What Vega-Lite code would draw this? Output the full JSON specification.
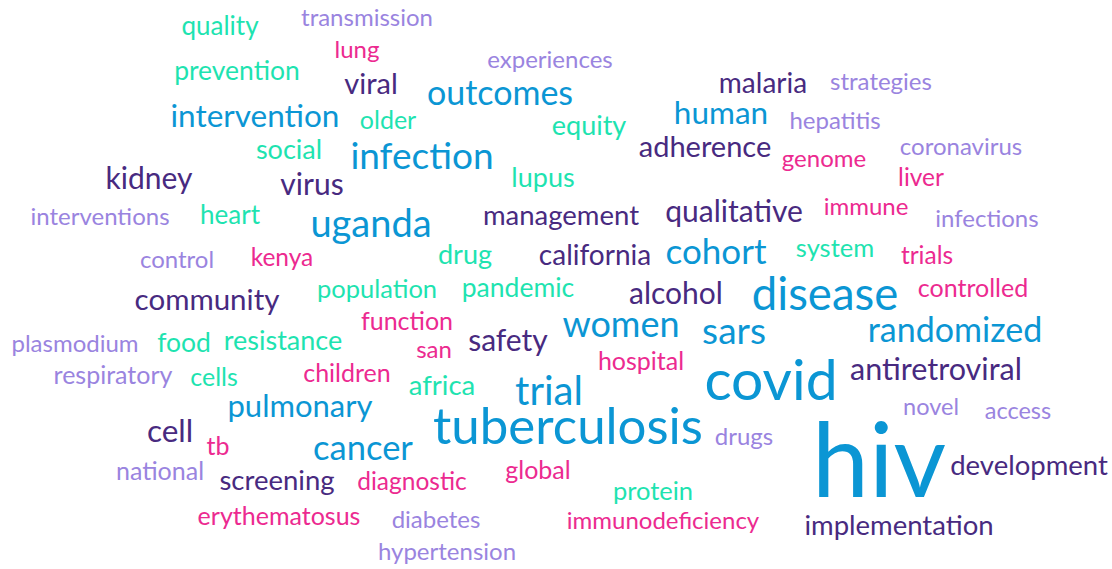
{
  "$schema": "https://vega.github.io/schema/vega-lite/v6.json",
  "autosize": {"type": "fit", "contains": "padding"},
  "width": 1112,
  "height": 569,
  "padding": 0,
  "background": "white",
  "config": {"view": {"stroke": null}},
  "data": {"values": [
    {"word": "quality", "x": 220, "y": 35, "w": 26, "c": "teal"},
    {"word": "transmission", "x": 367, "y": 26, "w": 24, "c": "lavender"},
    {"word": "lung", "x": 357, "y": 58, "w": 24, "c": "pink"},
    {"word": "experiences", "x": 550, "y": 68, "w": 24, "c": "lavender"},
    {"word": "prevention", "x": 237, "y": 80, "w": 26.5, "c": "teal"},
    {"word": "viral", "x": 371, "y": 94, "w": 29, "c": "purple"},
    {"word": "outcomes", "x": 500, "y": 105, "w": 34, "c": "blue"},
    {"word": "malaria", "x": 763, "y": 93, "w": 28, "c": "purple"},
    {"word": "strategies", "x": 881, "y": 90, "w": 24, "c": "lavender"},
    {"word": "intervention", "x": 255, "y": 127, "w": 31.5, "c": "blue"},
    {"word": "older", "x": 388, "y": 129, "w": 25, "c": "teal"},
    {"word": "human", "x": 721, "y": 124, "w": 31.5, "c": "blue"},
    {"word": "hepatitis", "x": 835, "y": 129, "w": 24, "c": "lavender"},
    {"word": "equity", "x": 589, "y": 135, "w": 27, "c": "teal"},
    {"word": "social", "x": 289, "y": 159, "w": 27, "c": "teal"},
    {"word": "infection", "x": 422, "y": 169, "w": 37, "c": "blue"},
    {"word": "adherence", "x": 705, "y": 157, "w": 29, "c": "purple"},
    {"word": "coronavirus", "x": 961, "y": 155, "w": 24, "c": "lavender"},
    {"word": "genome", "x": 824, "y": 167, "w": 24, "c": "pink"},
    {"word": "lupus", "x": 543, "y": 187, "w": 27, "c": "teal"},
    {"word": "kidney", "x": 149, "y": 189, "w": 30, "c": "purple"},
    {"word": "virus", "x": 312, "y": 195, "w": 30, "c": "purple"},
    {"word": "liver", "x": 921, "y": 186, "w": 24.5, "c": "pink"},
    {"word": "interventions", "x": 100, "y": 225, "w": 24, "c": "lavender"},
    {"word": "heart", "x": 230, "y": 224, "w": 26, "c": "teal"},
    {"word": "uganda", "x": 371, "y": 237, "w": 38, "c": "blue"},
    {"word": "management", "x": 561, "y": 225, "w": 27.5, "c": "purple"},
    {"word": "qualitative", "x": 734, "y": 222, "w": 30, "c": "purple"},
    {"word": "immune", "x": 866, "y": 215, "w": 24, "c": "pink"},
    {"word": "infections", "x": 987, "y": 227, "w": 24, "c": "lavender"},
    {"word": "control", "x": 177, "y": 268, "w": 24, "c": "lavender"},
    {"word": "kenya", "x": 282, "y": 266, "w": 24.5, "c": "pink"},
    {"word": "drug", "x": 465, "y": 264, "w": 27, "c": "teal"},
    {"word": "california", "x": 595, "y": 265, "w": 28, "c": "purple"},
    {"word": "cohort", "x": 716, "y": 264, "w": 35, "c": "blue"},
    {"word": "system", "x": 835, "y": 257, "w": 25.5, "c": "teal"},
    {"word": "trials", "x": 927, "y": 264, "w": 24.5, "c": "pink"},
    {"word": "community", "x": 207, "y": 310, "w": 29.5, "c": "purple"},
    {"word": "population", "x": 377, "y": 298, "w": 25.5, "c": "teal"},
    {"word": "pandemic", "x": 518, "y": 297, "w": 26.5, "c": "teal"},
    {"word": "alcohol", "x": 676, "y": 304, "w": 30, "c": "purple"},
    {"word": "disease", "x": 825, "y": 310, "w": 45.5, "c": "blue"},
    {"word": "controlled", "x": 973, "y": 297, "w": 25, "c": "pink"},
    {"word": "plasmodium", "x": 75, "y": 352, "w": 24, "c": "lavender"},
    {"word": "food", "x": 184, "y": 352, "w": 26.5, "c": "teal"},
    {"word": "resistance", "x": 283, "y": 350, "w": 27, "c": "teal"},
    {"word": "function", "x": 407, "y": 330, "w": 25, "c": "pink"},
    {"word": "san", "x": 434, "y": 358, "w": 24, "c": "pink"},
    {"word": "safety", "x": 508, "y": 351, "w": 30, "c": "purple"},
    {"word": "women", "x": 621, "y": 337, "w": 36, "c": "blue"},
    {"word": "sars", "x": 734, "y": 344, "w": 37, "c": "blue"},
    {"word": "randomized", "x": 955, "y": 342, "w": 34, "c": "blue"},
    {"word": "hospital", "x": 641, "y": 370, "w": 25, "c": "pink"},
    {"word": "respiratory", "x": 113, "y": 384, "w": 25, "c": "lavender"},
    {"word": "cells", "x": 214, "y": 386, "w": 25, "c": "teal"},
    {"word": "children", "x": 347, "y": 382, "w": 25, "c": "pink"},
    {"word": "africa", "x": 442, "y": 395, "w": 27.5, "c": "teal"},
    {"word": "trial", "x": 549, "y": 405, "w": 40, "c": "blue"},
    {"word": "covid", "x": 771, "y": 400, "w": 57, "c": "blue"},
    {"word": "antiretroviral", "x": 936, "y": 380, "w": 30.5, "c": "purple"},
    {"word": "pulmonary", "x": 300, "y": 417, "w": 31, "c": "blue"},
    {"word": "tuberculosis", "x": 568, "y": 444, "w": 51, "c": "blue"},
    {"word": "novel", "x": 931, "y": 415, "w": 23.5, "c": "lavender"},
    {"word": "access", "x": 1018, "y": 419, "w": 23.5, "c": "lavender"},
    {"word": "cell", "x": 170, "y": 442, "w": 31.5, "c": "purple"},
    {"word": "tb", "x": 218, "y": 455, "w": 25, "c": "pink"},
    {"word": "cancer", "x": 363, "y": 460, "w": 34.5, "c": "blue"},
    {"word": "drugs", "x": 744, "y": 445, "w": 24, "c": "lavender"},
    {"word": "hiv", "x": 879, "y": 497, "w": 102, "c": "blue"},
    {"word": "development", "x": 1029, "y": 475, "w": 27.5, "c": "purple"},
    {"word": "national", "x": 160, "y": 480, "w": 25, "c": "lavender"},
    {"word": "screening", "x": 277, "y": 490, "w": 27.5, "c": "purple"},
    {"word": "diagnostic", "x": 412, "y": 490, "w": 24.5, "c": "pink"},
    {"word": "global", "x": 538, "y": 479, "w": 25, "c": "pink"},
    {"word": "protein", "x": 653, "y": 500, "w": 25.5, "c": "teal"},
    {"word": "erythematosus", "x": 279, "y": 525, "w": 25, "c": "pink"},
    {"word": "diabetes", "x": 436, "y": 528, "w": 24, "c": "lavender"},
    {"word": "immunodeficiency", "x": 663, "y": 529, "w": 24, "c": "pink"},
    {"word": "implementation", "x": 899, "y": 535, "w": 27.5, "c": "purple"},
    {"word": "hypertension", "x": 447, "y": 560, "w": 24, "c": "lavender"}
  ]},
  "mark": {"type": "text", "font": "Lato", "align": "center", "baseline": "alphabetic"},
  "encoding": {
    "x": {"field": "x", "type": "quantitative", "scale": {"domain": [0, 1112], "nice": false, "zero": false}, "axis": null},
    "y": {"field": "y", "type": "quantitative", "scale": {"domain": [0, 569], "nice": false, "zero": false, "reverse": true}, "axis": null},
    "size": {"field": "w", "type": "quantitative", "scale": {"type": "linear", "domain": [0, 100], "range": [0, 100], "zero": true}, "legend": null},
    "color": {"field": "c", "type": "nominal", "scale": {"domain": ["teal", "blue", "purple", "pink", "lavender"], "range": ["#1ee3b0", "#0b96d4", "#482a80", "#ec2a90", "#9a84df"]}, "legend": null},
    "text": {"field": "word", "type": "nominal"}
  }
}
